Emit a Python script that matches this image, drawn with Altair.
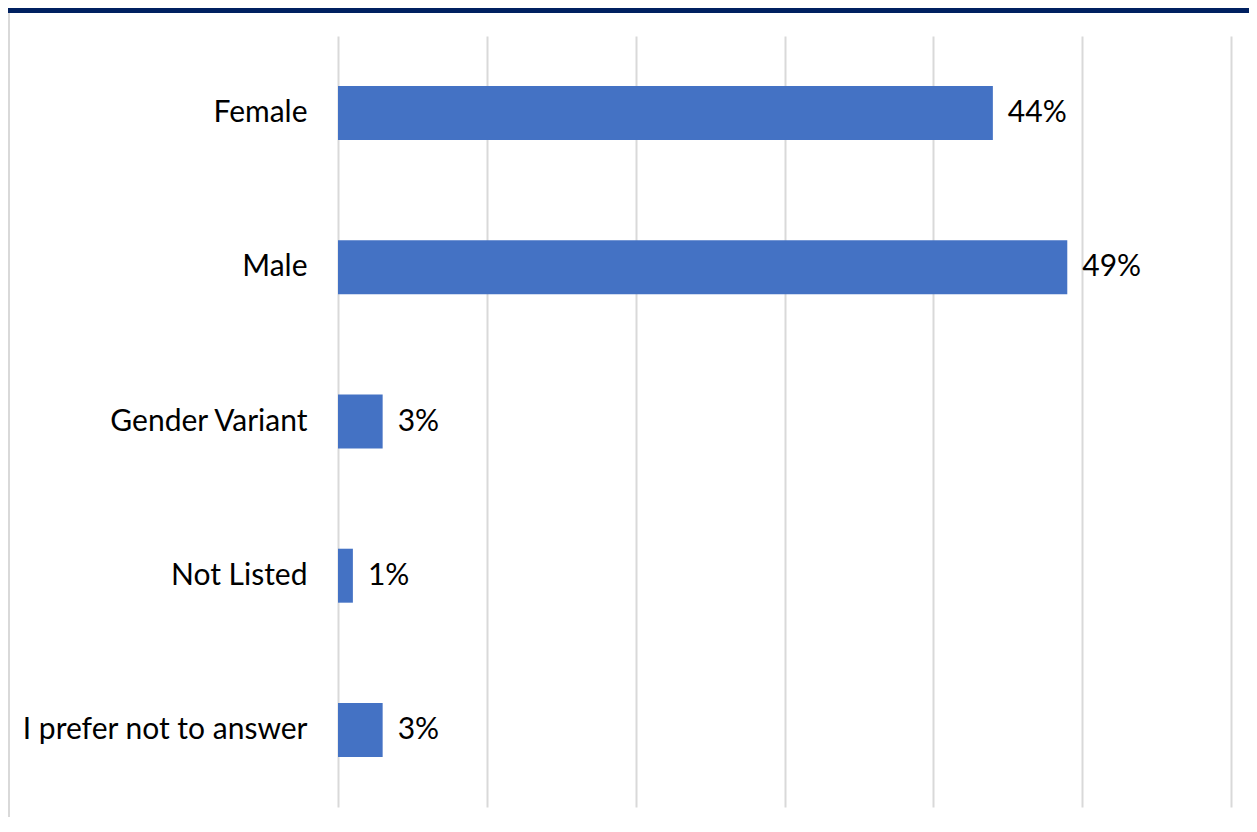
import altair as alt
import pandas as pd

categories = ["Female", "Male", "Gender Variant", "Not Listed", "I prefer not to answer"]
values = [0.44, 0.49, 0.03, 0.01, 0.03]
labels = ["44%", "49%", "3%", "1%", "3%"]
grid_values = [0, 0.1, 0.2, 0.3, 0.4, 0.5, 0.6]

df = pd.DataFrame({"cat": categories, "val": values, "lab": labels})

FONT = "Lato"
FS = 30

W, H = 893, 771
PAD_L, PAD_T = 330, 28

x = alt.X("val:Q", scale=alt.Scale(domain=[0, 0.6], nice=False),
          axis=alt.Axis(values=grid_values, labels=False, ticks=False, domain=False,
                        grid=True, gridColor="#d9d9d9", gridWidth=2, title=None))
y = alt.Y("cat:N", sort=categories,
          scale=alt.Scale(paddingInner=0.65, paddingOuter=0.325),
          axis=alt.Axis(ticks=False, domain=False, title=None, labelFont=FONT,
                        labelFontSize=FS, labelColor="#000000", labelPadding=31,
                        labelLimit=400))

bars = alt.Chart(df).mark_bar(color="#4472C4").encode(x=x, y=y)
text = alt.Chart(df).mark_text(align="left", baseline="middle", dx=15,
                               font=FONT, fontSize=FS, color="#000000").encode(
    x="val:Q", y=alt.Y("cat:N", sort=categories), text="lab:N")

top_band = alt.Chart(df).mark_rect(color="#002060").encode(
    x=alt.value(-PAD_L), x2=alt.value(W + 20), y=alt.value(-PAD_T), y2=alt.value(-PAD_T + 5))
left_border = alt.Chart(df).mark_rule(color="#d9d9d9", strokeWidth=2).encode(
    x=alt.value(-PAD_L + 1), y=alt.value(-PAD_T + 5), y2=alt.value(H + 20))

chart = alt.layer(bars, text, top_band, left_border).properties(
    width=W, height=H,
    autosize=alt.AutoSizeParams(type="none"),
    padding={"left": PAD_L, "top": PAD_T, "right": 18, "bottom": 10},
    background="#ffffff",
).configure_view(stroke=None)

chart.save("out.html", embed_options={"renderer": "svg", "actions": False})
